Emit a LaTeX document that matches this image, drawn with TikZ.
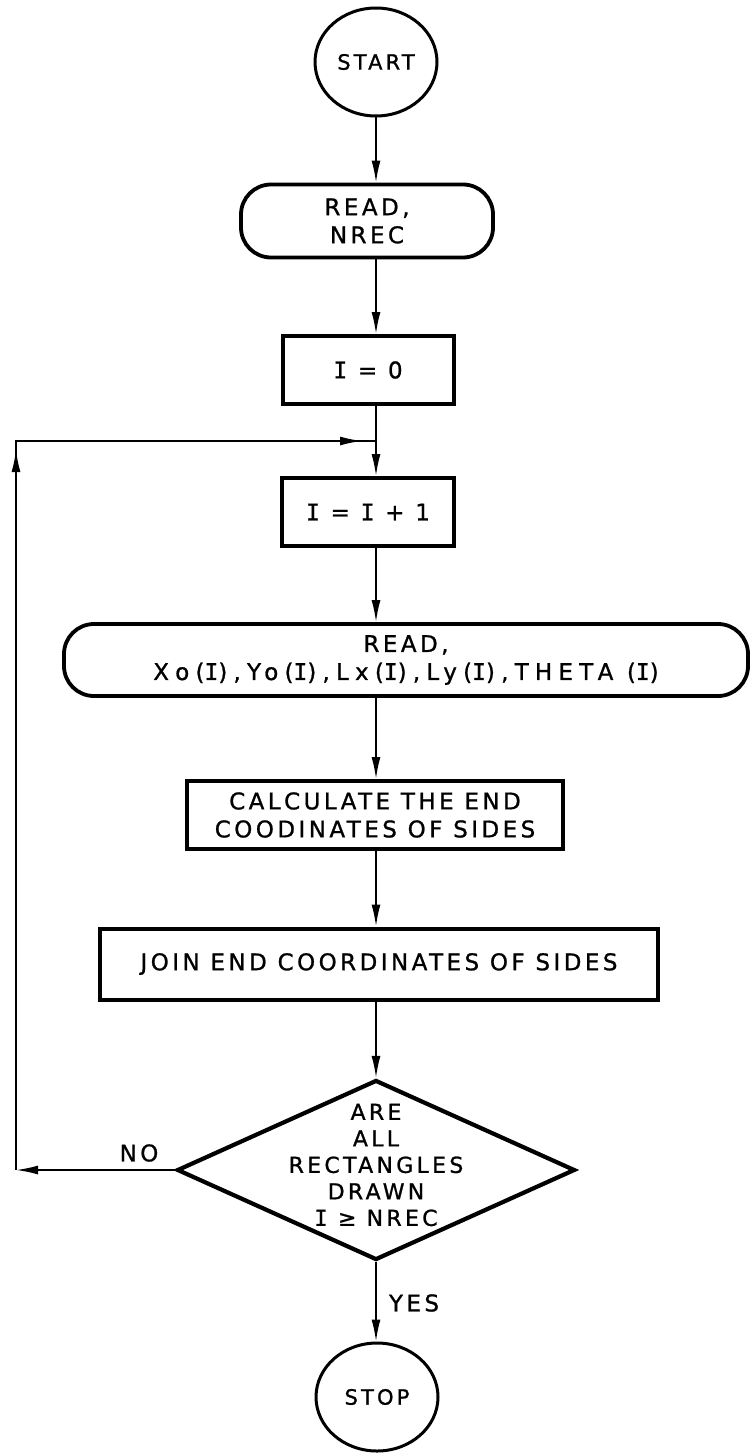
\documentclass[tikz,border=0pt]{standalone}
\usepackage{fontspec}
\newfontfamily\chartfont[FakeBold=1, LetterSpace=15]{DejaVu Sans}
\newfontfamily\widefont[FakeBold=1, LetterSpace=27]{DejaVu Sans}
\newfontfamily\varfont[FakeBold=1, LetterSpace=15]{DejaVu Sans Mono}
\newcommand\ivar{{\varfont I}}
\usetikzlibrary{arrows.meta,shapes.geometric,decorations.markings}

\begin{document}
\begin{tikzpicture}[
	x=1pt, y=-1pt,
	every node/.style={ font=\chartfont\fontsize{23}{28}\selectfont },
	terminal/.style={ ellipse, draw, line width=3pt, inner sep=0pt, minimum width=122pt, minimum height=108pt, font=\chartfont\fontsize{21}{25}\selectfont },
	inout/.style={ rectangle, draw, line width=3.8pt, rounded corners=30pt, inner sep=0pt, align=center },
	process/.style={ rectangle, draw, line width=4pt, inner sep=0pt, align=center },
	decision/.style={ diamond, draw, line width=4.2pt, inner sep=0pt, minimum width=398pt, minimum height=180pt },
	flow/.style={ line width=1.8pt, -{Latex[length=22pt,width=9pt]} },
	wire/.style={ line width=1.8pt, line join=miter },
	looptips/.style={ postaction=decorate, decoration={markings,
		mark=at position 720pt with {\arrow{Latex[length=22pt,width=9pt]}},
		mark=at position -14pt with {\arrow{Latex[length=22pt,width=9pt]}}} }
]
\useasboundingbox (0,0) rectangle (752,1455);

\node at (376,62) (start) [terminal] {START};
\node at (367,221) (read1) [inout, minimum width=252pt, minimum height=73pt] {READ,\\NREC};
\node at (368,370) (init) [process, minimum width=171pt, minimum height=68pt] {\ivar{} = 0};
\node at (368,512) (incr) [process, minimum width=172pt, minimum height=68pt] {\ivar{} = \ivar{} + 1};
\node at (406,660) (read2) [inout, minimum width=684pt, minimum height=72pt] {READ,\\{\widefont Xo(\ivar),Yo(\ivar),Lx(\ivar),Ly(\ivar),THETA (\ivar)}};
\node at (375,815) (calc) [process, minimum width=376pt, minimum height=68pt] {CALCULATE THE END\\COODINATES OF SIDES};
\node at (379,964) (join) [process, minimum width=558pt, minimum height=71pt] {JOIN END COORDINATES OF SIDES};
\node at (376,1170) (test) [decision] {};
\node at (376,1165) (testtext) [align=center, font=\chartfont\fontsize{22}{26.5}\selectfont] {ARE\\ALL\\RECTANGLES\\DRAWN\\\ivar{} ≥ NREC};
\node at (377,1397) (stop) [terminal] {STOP};

\node at (139,1153) (nolabel) {NO};
\node at (414,1303) (yeslabel) {YES};

\foreach \a/\b in {start/read1, read1/init, init/incr, incr/read2, read2/calc, calc/join, join/test, test/stop}
	\draw[flow] (\a.south -| start) -- (\b.north -| start);

% back to I = I + 1
\coordinate (nobend) at (16,1170);
\coordinate (loopbend) at (16,441);
\coordinate (loopjoin) at (376,441);
\draw[flow] (test.west) -- (nobend);
\draw[wire, looptips] (nobend) -- (loopbend) -- (loopjoin);

\end{tikzpicture}
\end{document}
